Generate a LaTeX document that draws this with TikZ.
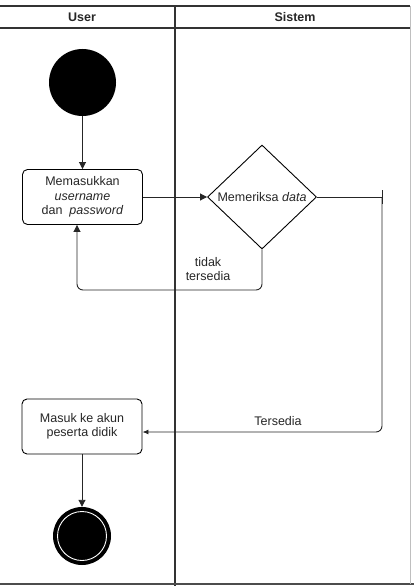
\documentclass[tikz,border=0pt]{standalone}
\usepackage{fontspec}
\setmainfont{Liberation Sans}
\usetikzlibrary{shapes.geometric,arrows.meta}
\begin{document}
\begin{tikzpicture}[x=1pt,y=-1pt,
  every node/.style={font=\fontsize{12.5}{14.5}\selectfont, text=black!85},
  actbox/.style={draw, rounded corners=5pt, line width=0.9pt, minimum width=120pt, minimum height=55pt, align=center, inner sep=1pt},
  conn/.style={draw=black!85, line width=0.9pt, -{Triangle[length=7pt,width=7pt]}},
  plain/.style={draw=black!85, line width=0.9pt},
  lane/.style={draw=black!80, line width=1.3pt}]
\useasboundingbox (0,0) rectangle (414,586);
% swimlane frame
\coordinate (hl) at (0,6);
\coordinate (hr) at (410,6);
\draw[lane] (hl) -- (hr);
\draw[lane] (0,28) -- (410,28);
\draw[lane] (175,6) -- (175,586);
\draw[draw=black!70, line width=2pt] (0,584) -- (414,584);
\draw[draw=black!25, line width=0.6pt] (410,6) -- (410,584);
\node[font=\bfseries\fontsize{12.5}{14.5}\selectfont] (huser) at (82,17) {User};
\node[font=\bfseries\fontsize{12.5}{14.5}\selectfont] (hsis) at (295,17) {Sistem};
% start
\node[circle, fill=black, minimum size=67pt, inner sep=0pt] (start) at (82.5,82.5) {};
% box 1
\node[actbox] (b1) at (82.5,197) {Memasukkan\\\textit{username}\\dan \ \textit{password}};
% decision
\node[diamond, draw, line width=0.9pt, minimum width=109pt, minimum height=104pt, inner sep=0pt, aspect=1.05] (dec) at (262,197) {};
\node (dectext) at (262,197) {Memeriksa \textit{data}};
% box 2
\node[actbox] (b2) at (82,426.5) {Masuk ke akun\\peserta didik};
% end
\node[circle, fill=black, minimum size=58pt, inner sep=0pt] (endo) at (82,536) {};
\node[circle, draw=white, line width=0.9pt, fill=black, minimum size=49pt, inner sep=0pt] (endi) at (82,536) {};
% connectors
\draw[conn] (start) -- (b1);
\draw[conn] (b1) -- (dec);
\coordinate (c1) at (262,290);
\coordinate (c2) at (77,290);
\draw[conn, rounded corners=6pt] (dec.south) -- (c1) -- (c2) -- (b1.south -| c2);
\coordinate (c3) at (382,197);
\coordinate (c4) at (382,432);
\draw[plain] (dec.east) -- (c3);
\draw[conn, -{Latex[length=6pt,width=5pt]}, rounded corners=6pt] (c3) -- (c4) -- (b2.east |- c4);
\draw[plain] (382,190) -- (382,204);
\draw[conn] (b2) -- (endo);
% labels
\node[align=center] (lt) at (208,269) {tidak\\tersedia};
\node (ls) at (278,421) {Tersedia};
\end{tikzpicture}
\end{document}
